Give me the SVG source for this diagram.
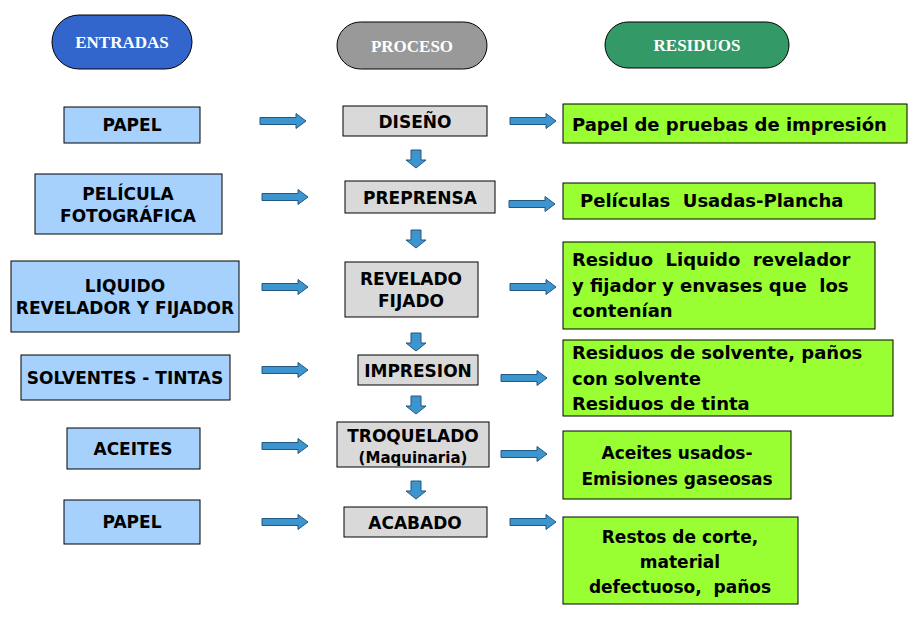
<svg xmlns="http://www.w3.org/2000/svg" xmlns:xlink="http://www.w3.org/1999/xlink" width="912" height="622" viewBox="0 0 912 622">
<style>
.in{fill:#a6d1fc;stroke:#000;stroke-width:1}
.pr{fill:#d9d9d9;stroke:#000;stroke-width:1}
.out{fill:#99ff33;stroke:#000;stroke-width:1}
.t{font-family:"DejaVu Sans",Verdana,sans-serif;font-weight:bold;font-size:17px;fill:#000;text-anchor:middle}
.tl{font-family:"DejaVu Sans",Verdana,sans-serif;font-weight:bold;font-size:18px;fill:#000}
.h{font-family:"Liberation Serif",serif;font-weight:bold;font-size:17px;fill:#fff;text-anchor:middle}
.ar{fill:#3d95cf;stroke:#24577f;stroke-width:1}
</style>
<defs>
<path id="ra" d="M0,-3.5 H36 V-7.5 L46,0 L36,7.5 V3.5 H0 Z" class="ar"/>
<path id="da" d="M-5,0 H5 V10 H10 L0,18 L-10,10 H-5 Z" class="ar"/>
</defs>
<rect width="912" height="622" fill="#fff"/>
<g id="headers">
<rect x="52" y="15" width="140" height="54" rx="27" fill="#3366cc" stroke="#000"/>
<text class="h" x="122" y="48">ENTRADAS</text>
<rect x="337" y="22" width="150" height="47" rx="23.5" fill="#999999" stroke="#000"/>
<text class="h" x="412" y="52">PROCESO</text>
<rect x="605" y="22" width="184" height="46" rx="23" fill="#339966" stroke="#000"/>
<text class="h" x="697" y="51">RESIDUOS</text>
</g>
<g id="entradas">
<g id="in1"><rect class="in" x="64" y="107" width="136" height="36"/><text class="t" x="132" y="131">PAPEL</text></g>
<g id="in2"><rect class="in" x="35" y="174" width="187" height="60"/><text class="t" x="128" y="200">PELÍCULA</text><text class="t" x="128" y="222">FOTOGRÁFICA</text></g>
<g id="in3"><rect class="in" x="11" y="261" width="228" height="71"/><text class="t" x="125" y="292">LIQUIDO</text><text class="t" x="125" y="314">REVELADOR Y FIJADOR</text></g>
<g id="in4"><rect class="in" x="21" y="355" width="209" height="45"/><text class="t" x="125" y="384">SOLVENTES  - TINTAS</text></g>
<g id="in5"><rect class="in" x="67" y="428" width="133" height="41"/><text class="t" x="133" y="455">ACEITES</text></g>
<g id="in6"><rect class="in" x="64" y="500" width="136" height="44"/><text class="t" x="132" y="528">PAPEL</text></g>
</g>
<g id="proceso">
<g id="p1"><rect class="pr" x="343" y="106" width="144" height="30"/><text class="t" x="415" y="128">DISEÑO</text></g>
<g id="p2"><rect class="pr" x="345" y="181" width="150" height="32"/><text class="t" x="420" y="204">PREPRENSA</text></g>
<g id="p3"><rect class="pr" x="345" y="262" width="133" height="55"/><text class="t" x="411" y="285">REVELADO</text><text class="t" x="411" y="307">FIJADO</text></g>
<g id="p4"><rect class="pr" x="358" y="355" width="120" height="30"/><text class="t" x="418" y="377">IMPRESION</text></g>
<g id="p5"><rect class="pr" x="337" y="422" width="152" height="45"/><text class="t" x="413" y="442">TROQUELADO</text><text class="t" x="413" y="463" style="font-size:15px">(Maquinaria)</text></g>
<g id="p6"><rect class="pr" x="344" y="507" width="143" height="30"/><text class="t" x="415" y="529">ACABADO</text></g>
</g>
<g id="residuos">
<g id="r1"><rect class="out" x="563" y="104" width="344" height="39"/><text class="tl" x="572" y="131">Papel de pruebas de impresión</text></g>
<g id="r2"><rect class="out" x="563" y="183" width="312" height="36"/><text class="tl" x="580" y="207" xml:space="preserve">Películas  Usadas-Plancha</text></g>
<g id="r3"><rect class="out" x="563" y="242" width="312" height="87"/><text class="tl" x="572" y="266" xml:space="preserve">Residuo  Liquido  revelador</text><text class="tl" x="572" y="292" xml:space="preserve">y fijador y envases que  los</text><text class="tl" x="572" y="317">contenían</text></g>
<g id="r4"><rect class="out" x="563" y="340" width="330" height="76"/><text class="tl" x="572" y="359">Residuos de solvente, paños</text><text class="tl" x="572" y="385">con solvente</text><text class="tl" x="572" y="410">Residuos de tinta</text></g>
<g id="r5"><rect class="out" x="563" y="431" width="228" height="68"/><text class="t" x="677" y="459">Aceites usados-</text><text class="t" x="677" y="485">Emisiones gaseosas</text></g>
<g id="r6"><rect class="out" x="563" y="517" width="235" height="87"/><text class="t" x="680" y="543">Restos de corte,</text><text class="t" x="680" y="568">material</text><text class="t" x="680" y="593" xml:space="preserve">defectuoso,  paños</text></g>
</g>
<g id="connectors">
<use xlink:href="#ra" x="260" y="121"/>
<use xlink:href="#ra" x="262" y="197"/>
<use xlink:href="#ra" x="262" y="287"/>
<use xlink:href="#ra" x="262" y="370"/>
<use xlink:href="#ra" x="262" y="446"/>
<use xlink:href="#ra" x="262" y="522"/>
<use xlink:href="#ra" x="510" y="121"/>
<use xlink:href="#ra" x="509" y="204"/>
<use xlink:href="#ra" x="510" y="287"/>
<use xlink:href="#ra" x="501" y="378"/>
<use xlink:href="#ra" x="501" y="454"/>
<use xlink:href="#ra" x="510" y="522"/>
<use xlink:href="#da" x="416" y="150"/>
<use xlink:href="#da" x="416" y="230"/>
<use xlink:href="#da" x="416" y="333"/>
<use xlink:href="#da" x="416" y="396"/>
<use xlink:href="#da" x="416" y="481"/>
</g>
</svg>
